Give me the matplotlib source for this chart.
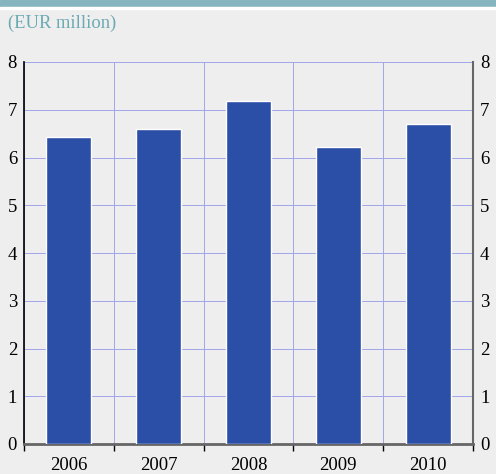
import matplotlib.pyplot as plt
import numpy as np

years = ['2006', '2007', '2008', '2009', '2010']
values = [6.43, 6.60, 7.18, 6.22, 6.70]
y_ticks = [0, 1, 2, 3, 4, 5, 6, 7, 8]

bg = '#eeeeee'
bar_color = '#2b4ea6'
grid_color = '#a4a6ea'
teal = '#6aaab2'
serif = 'Liberation Serif'

fig = plt.figure(figsize=(4.96, 4.74), dpi=100, facecolor=bg)
W, H = 496, 474

# top band with a thin white line under it
fig.patches.append(plt.Rectangle((0, 1 - 7 / H), 1, 7 / H, transform=fig.transFigure,
                                 color='#87b5bf', zorder=0))
fig.patches.append(plt.Rectangle((0, 1 - 9 / H), 1, 2 / H, transform=fig.transFigure,
                                 color='white', zorder=0))
fig.text(8 / W, 1 - 23 / H, '(EUR million)', color=teal, fontsize=13.3,
         family=serif, va='center', ha='left')

ax = fig.add_axes([24 / W, 30 / H, 449 / W, 382 / H])
ax.set_facecolor(bg)

x = np.arange(len(years))
ax.bar(x, values, width=0.5, color=bar_color, edgecolor='white', linewidth=1, zorder=3)

ax.set_xlim(-0.5, len(years) - 0.5)
ax.set_ylim(0, 8)
ax.set_yticks(y_ticks)
ax.set_xticks(x)
ax.set_xticklabels(years)
ax.set_xticks(np.arange(len(years) + 1) - 0.5, minor=True)

ax.grid(axis='y', which='major', color=grid_color, linewidth=0.72, zorder=1)
ax.grid(axis='x', which='minor', color=grid_color, linewidth=0.72, zorder=1)
ax.set_axisbelow(True)

ax.tick_params(axis='x', which='major', length=0, pad=9)
ax.tick_params(axis='x', which='minor', length=5, direction='out', color='black', width=1)
ax.tick_params(axis='y', length=0, labelright=True, pad=5)
for lab in ax.get_xticklabels() + ax.get_yticklabels():
    lab.set_family(serif)
    lab.set_fontsize(13.5)
for t in ax.yaxis.get_major_ticks():
    t.label2.set_family(serif)
    t.label2.set_fontsize(13.5)

ax.spines['top'].set_visible(False)
ax.spines['left'].set_color('black')
ax.spines['left'].set_linewidth(1.2)
ax.spines['right'].set_color('#666666')
ax.spines['right'].set_linewidth(1.5)
ax.spines['bottom'].set_color('#666666')
ax.spines['bottom'].set_linewidth(2)

fig.savefig('out.png', dpi=100, facecolor=bg)
